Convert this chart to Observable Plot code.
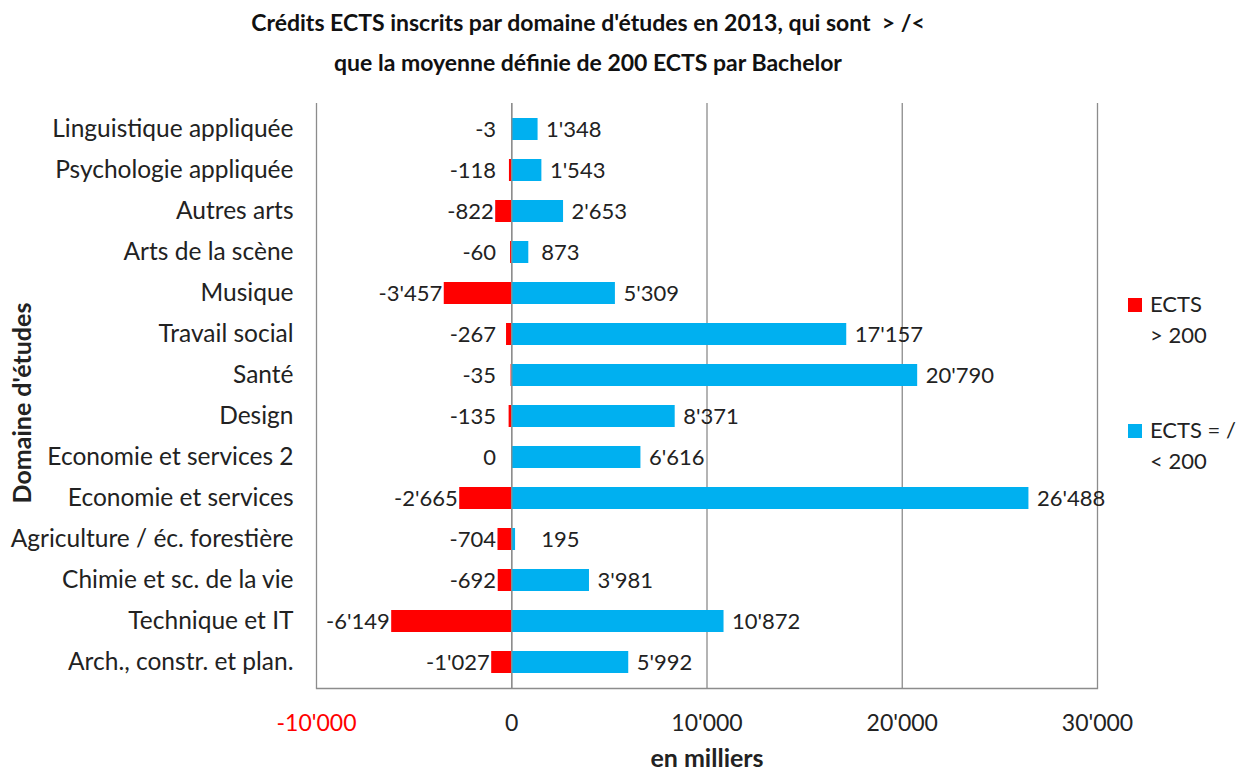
<!DOCTYPE html>
<html><head><meta charset="utf-8">
<script src="https://cdn.jsdelivr.net/npm/d3@7"></script>
<script src="https://cdn.jsdelivr.net/npm/@observablehq/plot@0.6"></script>
<style>
body{margin:0;background:#fff;font-family:Lato,"Open Sans",sans-serif;}
#wrap{position:relative;width:1239px;height:772px;}
#title{position:absolute;left:0;width:1176px;top:2px;text-align:center;font-weight:bold;font-size:23px;line-height:40px;color:#111;z-index:2;}
.leg{position:absolute;left:1128px;font-size:22px;color:#222;line-height:31px;z-index:2;}
.sw{display:inline-block;width:14px;height:14px;margin-right:8px;vertical-align:0px;}
</style></head>
<body><div id="wrap">
<div id="title">Crédits ECTS inscrits par domaine d'études en 2013, qui sont &nbsp;&gt; /&lt;<br>que la moyenne définie de 200 ECTS par Bachelor</div>
<div class="leg" style="top:288px"><span class="sw" style="background:#ff0000"></span>ECTS<br><span style="padding-left:22px">&gt; 200</span></div>
<div class="leg" style="top:414px"><span class="sw" style="background:#00b0f0"></span>ECTS = /<br><span style="padding-left:22px">&lt; 200</span></div>
</div>
<script>
const categories = ["Linguistique appliquée","Psychologie appliquée","Autres arts","Arts de la scène","Musique","Travail social","Santé","Design","Economie et services 2","Economie et services","Agriculture / éc. forestière","Chimie et sc. de la vie","Technique et IT","Arch., constr. et plan."];
const above200 = [-3,-118,-822,-60,-3457,-267,-35,-135,0,-2665,-704,-692,-6149,-1027];
const belowOrEqual200 = [1348,1543,2653,873,5309,17157,20790,8371,6616,26488,195,3981,10872,5992];
const xTicks = [-10000,0,10000,20000,30000];
const seriesNames = ["ECTS > 200","ECTS = / < 200"];
const colors = ["#ff0000","#00b0f0"];

const loc = d3.formatLocale({decimal:".",thousands:"'",grouping:[3],currency:["",""],minus:"-"});
const fmt = loc.format(",d");

const neg = categories.map((c,i)=>({cat:c, v:above200[i], s:seriesNames[0]}));
const pos = categories.map((c,i)=>({cat:c, v:belowOrEqual200[i], s:seriesNames[1]}));

const chart = Plot.plot({
  width:1239, height:772,
  marginLeft:316, marginRight:142, marginTop:103, marginBottom:84,
  style:{fontFamily:"Lato, 'Open Sans', sans-serif", background:"transparent"},
  x:{domain:[-10000,30000], ticks:xTicks},
  y:{domain:categories, paddingInner:0.47, paddingOuter:0.235},
  color:{domain:seriesNames, range:colors},
  marks:[
    Plot.ruleX(xTicks,{stroke:"#8c8c8c", strokeWidth:1.3}),
    Plot.frame({anchor:"bottom", stroke:"#8c8c8c", strokeWidth:1.3}),
    Plot.barX(neg,{x1:0, x2:"v", y:"cat", fill:colors[0]}),
    Plot.barX(pos,{x1:0, x2:"v", y:"cat", fill:colors[1]}),
    Plot.ruleX([0],{stroke:"#8c8c8c", strokeWidth:1.3}),
    Plot.text(neg,{x:d=>Math.min(d.v,-700), y:"cat", text:d=>fmt(d.v), textAnchor:"end", dx:-2, fontSize:22, fill:"#222"}),
    Plot.text(pos,{x:d=>Math.max(d.v,1100), y:"cat", text:d=>fmt(d.v), textAnchor:"start", dx:8, fontSize:22, fill:"#222"}),
    Plot.axisY({tickSize:0, tickPadding:23, fontSize:24.5, label:null, fill:"#222"}),
    Plot.axisX({anchor:"bottom", ticks:xTicks, tickSize:0, tickPadding:26, fontSize:23, label:null, tickFormat:fmt, fill:d=>d<0?"#ff0000":"#222"}),
    Plot.text(["en milliers"],{frameAnchor:"bottom", dy:78, fontSize:25, fontWeight:"bold", fill:"#222"}),
    Plot.text(["Domaine d'études"],{frameAnchor:"left", textAnchor:"middle", dx:-294, dy:7, rotate:-90, fontSize:25, fontWeight:"bold", fill:"#222"})
  ]
});
document.getElementById("wrap").prepend(chart);
chart.style.position="absolute"; chart.style.left="0"; chart.style.top="0";
</script>
</body></html>
